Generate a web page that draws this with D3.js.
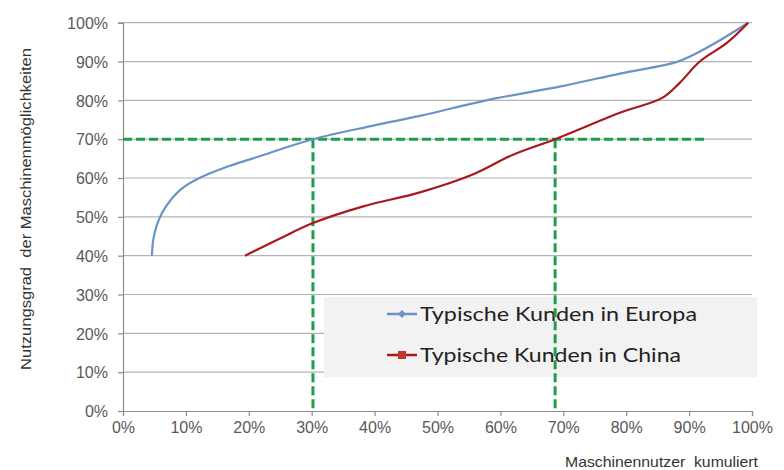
<!DOCTYPE html>
<html>
<head>
<meta charset="utf-8">
<script src="https://cdn.jsdelivr.net/npm/d3@7"></script>
<style>
  html, body { margin: 0; padding: 0; background: #fff; }
  svg { display: block; }
  text { white-space: pre; }
</style>
</head>
<body>
<svg id="chart" width="784" height="470"></svg>
<script>
// Cumulative machine users (x, %) vs. utilisation of machine capabilities (y, %)
const europaX = [4.6, 4.8, 5.3, 6.2, 7.8, 9.6, 12.0, 16.0, 21.3, 30.2, 39.8, 47.2, 58.3, 69.6, 79.0, 88.4, 93.3, 99.4];
const europaY = [40, 44, 47.5, 51, 54.8, 57.6, 59.9, 62.6, 65.4, 70, 73.5, 76, 80.2, 83.6, 86.9, 90.1, 94, 100];

const chinaX = [19.4, 24.8, 30.2, 38.2, 47.2, 55.6, 62.0, 68.7, 79.0, 85.8, 88.5, 91.7, 96.0, 99.4];
const chinaY = [40, 44.3, 48.4, 52.7, 56.3, 60.9, 66, 70, 76.8, 80.7, 84.5, 90, 94.8, 100];

const seriesNames = ["Typische Kunden in Europa", "Typische Kunden in China"];
const seriesColors = ["#6b93c6", "#a8191e"];

const tickValues = [0, 10, 20, 30, 40, 50, 60, 70, 80, 90, 100];
const xTitle = "Maschinennutzer  kumuliert";
const yTitle = "Nutzungsgrad  der Maschinenmöglichkeiten";

// Reference level and the user shares where each curve reaches it
const refLevel = 70;
const refXs = [30.2, 68.7];
const refLineEnd = 92.5;

const svg = d3.select("#chart");
const x = d3.scaleLinear().domain([0, 100]).range([123, 752]);
const y = d3.scaleLinear().domain([0, 100]).range([411, 22.7]);

const axisColor = "#8c8c8c";
const gridColor = "#b3b3b3";
const labelColor = "#595959";

// Horizontal gridlines
svg.append("g").selectAll("line").data(tickValues.slice(1)).join("line")
  .attr("x1", x(0)).attr("x2", x(100))
  .attr("y1", d => y(d)).attr("y2", d => y(d))
  .attr("stroke", gridColor).attr("stroke-width", 1.2);

// Axes
const fmt = d => d + "%";
const xAxis = svg.append("g").attr("transform", `translate(0,${y(0)})`)
  .call(d3.axisBottom(x).tickValues(tickValues).tickFormat(fmt).tickSize(5).tickPadding(6));
const yAxis = svg.append("g").attr("transform", `translate(${x(0)},0)`)
  .call(d3.axisLeft(y).tickValues(tickValues).tickFormat(fmt).tickSize(5).tickPadding(10));

[xAxis, yAxis].forEach(g => {
  g.select(".domain").attr("stroke", axisColor).attr("stroke-width", 1.2);
  g.selectAll(".tick line").attr("stroke", axisColor).attr("stroke-width", 1.2);
  g.selectAll(".tick text")
    .attr("fill", labelColor)
    .style("font-family", "'Liberation Sans', Arial, sans-serif")
    .style("font-size", "16px");
});
yAxis.selectAll(".tick text").attr("dy", "0.36em");
xAxis.selectAll(".tick text").attr("dy", "0.71em");

// Legend panel
const legend = svg.append("g");
legend.append("rect")
  .attr("x", 324).attr("y", 297).attr("width", 433).attr("height", 80)
  .attr("fill", "#f2f2f2");

// Reference dashed lines
const dash = { stroke: "#1e9e48", width: 3, pattern: "9,4" };
svg.append("line")
  .attr("x1", x(0)).attr("x2", x(refLineEnd))
  .attr("y1", y(refLevel)).attr("y2", y(refLevel))
  .attr("stroke", dash.stroke).attr("stroke-width", dash.width)
  .attr("stroke-dasharray", dash.pattern);
svg.append("g").selectAll("line").data(refXs).join("line")
  .attr("x1", d => x(d)).attr("x2", d => x(d))
  .attr("y1", y(refLevel)).attr("y2", y(0))
  .attr("stroke", dash.stroke).attr("stroke-width", dash.width)
  .attr("stroke-dasharray", dash.pattern);

// Smoothed curves
const line = d3.line().x(d => x(d[0])).y(d => y(d[1])).curve(d3.curveCatmullRom.alpha(0.5));
const series = [d3.zip(europaX, europaY), d3.zip(chinaX, chinaY)];
series.forEach((pts, i) => {
  svg.append("path").datum(pts)
    .attr("d", line)
    .attr("fill", "none")
    .attr("stroke", seriesColors[i])
    .attr("stroke-width", 2.2)
    .attr("stroke-linejoin", "round");
});

// Legend entries
const legendRows = [314, 355];
seriesNames.forEach((name, i) => {
  const cy = legendRows[i];
  legend.append("line")
    .attr("x1", 387).attr("x2", 417).attr("y1", cy).attr("y2", cy)
    .attr("stroke", seriesColors[i]).attr("stroke-width", 2.5);
  if (i === 0) {
    legend.append("path")
      .attr("d", d3.symbol(d3.symbolDiamond2, 40)())
      .attr("transform", `translate(402,${cy})`)
      .attr("fill", seriesColors[i]);
  } else {
    legend.append("rect")
      .attr("x", 398).attr("y", cy - 4).attr("width", 8).attr("height", 8)
      .attr("fill", "#c0392b");
  }
  legend.append("text")
    .attr("x", 420).attr("y", cy + 7)
    .attr("fill", "#222")
    .attr("textLength", i === 0 ? 277 : 261)
    .attr("lengthAdjust", "spacingAndGlyphs")
    .style("font-family", "Lato, 'Open Sans', sans-serif")
    .style("font-size", "20px")
    .text(name);
});

// Axis titles
svg.append("text")
  .attr("x", 565).attr("y", 467)
  .attr("fill", "#333")
  .attr("textLength", 193)
  .attr("lengthAdjust", "spacingAndGlyphs")
  .style("font-family", "'Liberation Sans', Arial, sans-serif")
  .style("font-size", "15px")
  .text(xTitle);

svg.append("text")
  .attr("transform", "translate(31,370) rotate(-90)")
  .attr("x", 0).attr("y", 0)
  .attr("fill", "#333")
  .attr("textLength", 322)
  .attr("lengthAdjust", "spacingAndGlyphs")
  .style("font-family", "'Liberation Sans', Arial, sans-serif")
  .style("font-size", "15px")
  .text(yTitle);
</script>
</body>
</html>
